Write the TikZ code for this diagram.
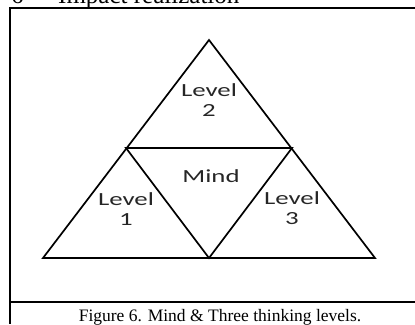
\documentclass[tikz,border=0pt]{standalone}
\usepackage{fontspec}
\setmainfont{Liberation Serif}
\newfontfamily\lblfont[FakeStretch=1.45]{Carlito}
\begin{document}
\begin{tikzpicture}[x=1pt,y=-1pt,
  frame/.style={line width=2pt},
  tri/.style={line width=1.7pt, line join=miter},
  lbl/.style={font=\lblfont\fontsize{18.5}{20}\selectfont, align=center, inner sep=0pt, text=black!85},
  captext/.style={font=\fontsize{17.5}{19}\selectfont, inner sep=0pt},
  headtext/.style={font=\fontsize{25}{27}\selectfont, inner sep=0pt}]
\useasboundingbox (0,0) rectangle (415,324);
\begin{scope}
\clip (0,0) rectangle (415,324);
% partially visible heading (cut off at the top)
\node[headtext, anchor=base west] (head6) at (11,3) {6};
\node[headtext, anchor=base west] (head) at (58,3) {Impact realization};
\end{scope}
% frame
\draw[frame] (415,8) -- (10,8) -- (10,324);
\draw[frame] (10,302) -- (415,302);
% triangle vertices
\coordinate (apex) at (209,40);
\coordinate (ml) at (126,148);
\coordinate (mr) at (292,148);
\coordinate (bl) at (43,258);
\coordinate (bm) at (209,258);
\coordinate (br) at (375,258);
\draw[tri] (bl) -- (apex) -- (br) -- cycle;
\draw[tri] (ml) -- (mr) -- (bm) -- cycle;
% labels
\node[lbl, anchor=base] (l2) at (209,116) {Level\\2};
\node[lbl, anchor=base] (mind) at (211,182) {Mind};
\node[lbl, anchor=base] (l1) at (126,225) {Level\\1};
\node[lbl, anchor=base] (l3) at (292,224) {Level\\3};
% caption
\node[captext, anchor=base] (caption) at (220,321) {Figure 6. Mind \& Three thinking levels.};
\end{tikzpicture}
\end{document}
